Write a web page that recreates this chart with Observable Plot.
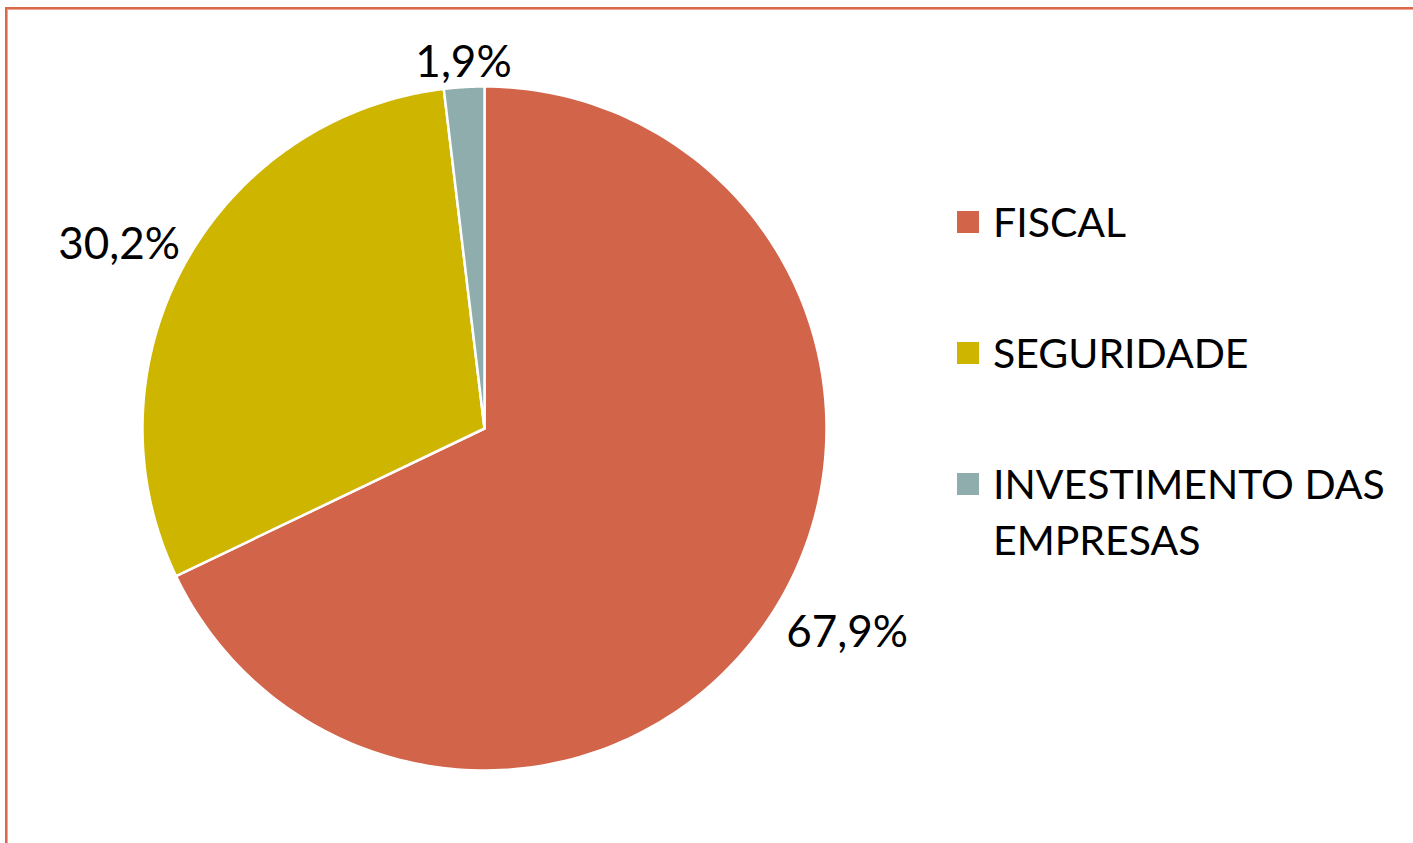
<!DOCTYPE html>
<html><head><meta charset="utf-8">
<script src="https://cdn.jsdelivr.net/npm/d3@7"></script>
<script src="https://cdn.jsdelivr.net/npm/@observablehq/plot@0.6"></script>
<style>
html,body{margin:0;padding:0;background:#fff;overflow:hidden;width:1413px;height:843px}
#wrap{position:relative;width:1413px;height:843px;overflow:hidden;font-family:Lato,"Open Sans",sans-serif}
#border{position:absolute;left:5px;top:7px;width:1600px;height:1000px;border-top:2px solid #d9684d;border-left:2px solid #d9684d;box-shadow:inset 1px 1px 0 #efa792}
#legend{position:absolute;left:957px;top:0;font-size:41px;color:#000}
.item{position:absolute;left:0;display:flex;align-items:flex-start;white-space:nowrap}
.sw{width:22px;height:22px;margin-right:14px;flex:none}
.lbl{line-height:56px}
svg{position:absolute;left:0;top:0}
</style></head>
<body><div id="wrap"><div id="border"></div><div id="legend"></div></div>
<script>
const categories = ["FISCAL", "SEGURIDADE", "INVESTIMENTO DAS EMPRESAS"];
const legendLines = [["FISCAL"], ["SEGURIDADE"], ["INVESTIMENTO DAS", "EMPRESAS"]];
const values = [67.9, 30.2, 1.9];
const labels = ["67,9%", "30,2%", "1,9%"];
const colors = ["#d2644a", "#ceb500", "#8fadac"];

const arcs = d3.pie().sort(null).startAngle(0).endAngle(2 * Math.PI)(values);
const pts = [];
arcs.forEach((a, i) => {
  pts.push({cat: categories[i], x: 0, y: 0});
  const n = 200;
  for (let k = 0; k <= n; k++) {
    const t = a.startAngle + (a.endAngle - a.startAngle) * k / n;
    pts.push({cat: categories[i], x: Math.sin(t), y: Math.cos(t)});
  }
});
const rl = 352 / 342;
const lab = arcs.map((a, i) => {
  const m = (a.startAngle + a.endAngle) / 2;
  const s = Math.sin(m), c = Math.cos(m);
  return {x: s * rl, y: c * rl, text: labels[i],
    anchor: s > 0.3 ? "start" : s < -0.3 ? "end" : "middle",
    line: c > 0 ? "bottom" : "top"};
});

const plot = Plot.plot({
  width: 1413, height: 843, margin: 0,
  x: {domain: [-1, 1], range: [142, 826], axis: null},
  y: {domain: [-1, 1], range: [770, 86], axis: null},
  color: {domain: categories, range: colors},
  style: {background: "transparent", fontFamily: "Lato, 'Open Sans', sans-serif"},
  marks: [
    Plot.line(pts, {x: "x", y: "y", z: "cat", fill: "cat", stroke: "#fff", strokeWidth: 2.5, curve: "linear-closed", strokeLinejoin: "round"}),
    ...["start", "end", "middle"].flatMap(an => ["top", "bottom"].map(ln =>
      Plot.text(lab.filter(d => d.anchor === an && d.line === ln), {x: "x", y: "y", text: "text", textAnchor: an, lineAnchor: ln, fontSize: 44, fill: "#000", dx: an === "start" ? 4 : an === "end" ? 4 : 0})))
  ]
});
document.getElementById("wrap").appendChild(plot);

const leg = document.getElementById("legend");
const tops = [194, 325, 456];
legendLines.forEach((lines, i) => {
  const it = document.createElement("div");
  it.className = "item";
  it.style.top = tops[i] + "px";
  const sw = document.createElement("div");
  sw.className = "sw"; sw.style.background = colors[i]; sw.style.marginTop = "17px";
  const lb = document.createElement("div");
  lb.className = "lbl"; lb.innerHTML = lines.join("<br>");
  it.appendChild(sw); it.appendChild(lb);
  leg.appendChild(it);
});
</script></body></html>
